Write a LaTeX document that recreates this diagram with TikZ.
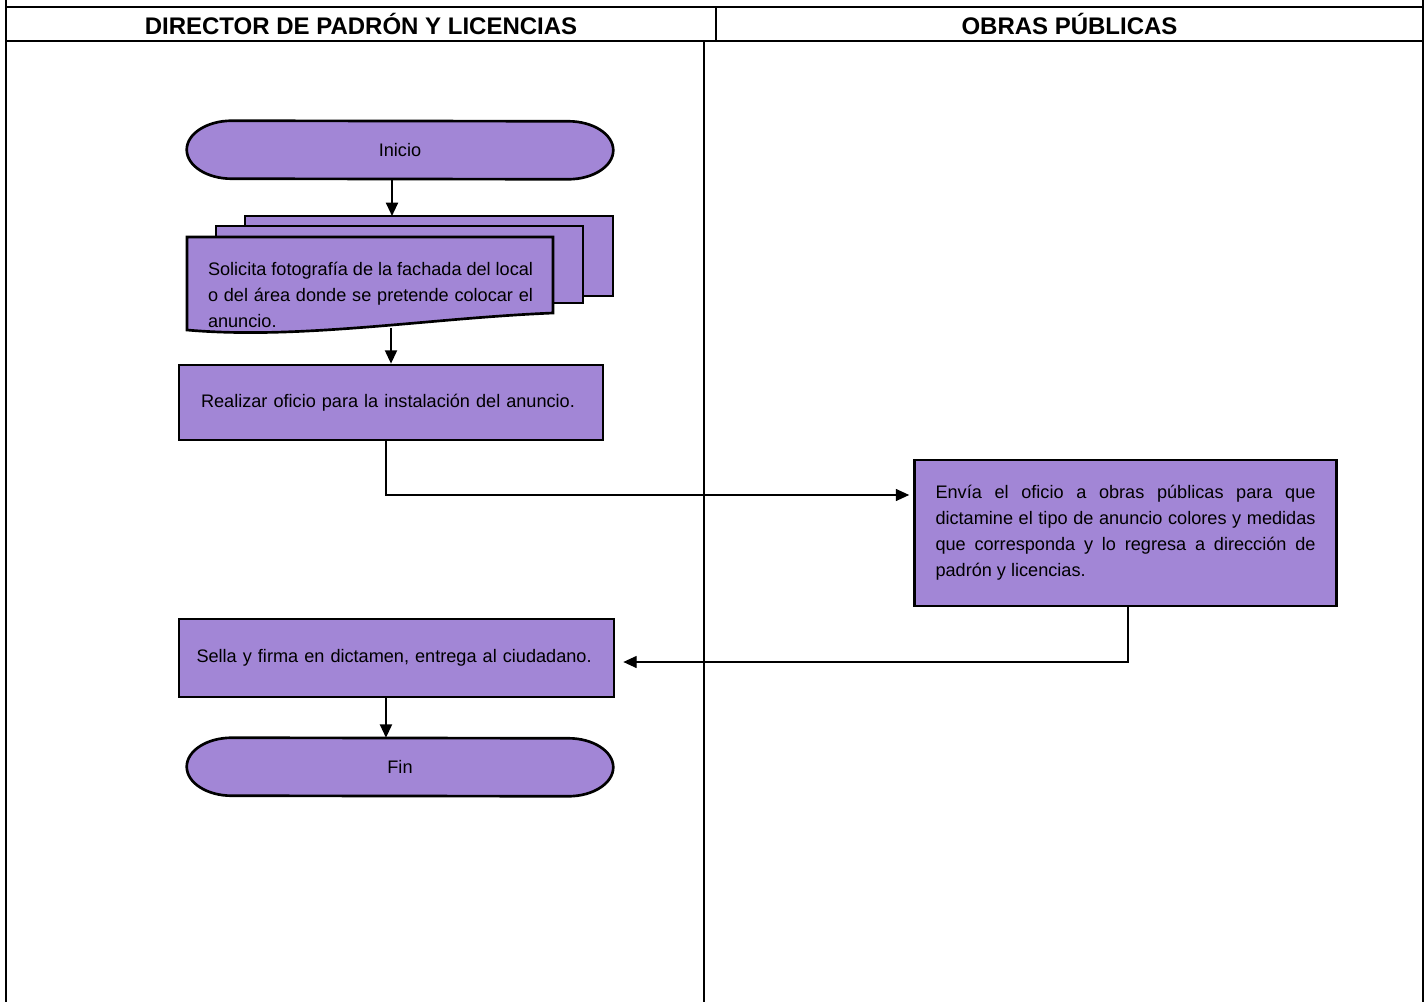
\documentclass[tikz,border=0pt]{standalone}
\usepackage{fontspec}
\setmainfont{Liberation Sans}
\usetikzlibrary{arrows.meta,positioning,backgrounds}
\definecolor{PLLila}{HTML}{A286D6}

\begin{document}
\begin{tikzpicture}[x=0.75pt, y=0.75pt, font=\fontsize{13.6pt}{19.5pt}\selectfont,
  lanehead/.style={font=\fontsize{18pt}{21pt}\selectfont\bfseries, inner sep=0pt},
  lane/.style={line width=1.6pt},
  sheet/.style={draw, line width=2pt, fill=PLLila},
  process/.style={sheet, inner xsep=16pt, align=left},
  terminal/.style={minimum width=319.5pt, minimum height=43.5pt, inner sep=0pt},
  flow/.style={-{Triangle[length=10pt,width=9pt]}, line width=1.5pt},
  link/.style={flow, line width=1pt}]
\useasboundingbox (0,0) rectangle (1427,-1002);
% lanes
\draw[lane] (6,0) -- (6,-1002) (1423,0) -- (1423,-1002) (704,-41) -- (704,-1002);
\draw[lane, line width=2.2pt] (6,-7) -- (1423,-7) (6,-41) -- (1423,-41);
\draw[lane] (716,-7) -- (716,-41);
\node[lanehead] (dirhead) at (361,-24) {DIRECTOR DE PADRÓN Y LICENCIAS};
\node[lanehead] (obrashead) at (1069.5,-24) {OBRAS PÚBLICAS};
% steps
\node[terminal] (inicio) at (400,-150) {Inicio};
\coordinate (stacktop) at (392,-216);
\node[inner sep=0pt, text width=243.75pt, align=justify] (solicita) at (370.5,-295) {Solicita fotografía de la fachada del local\linebreak o del área donde se pretende colocar el\linebreak anuncio.};
\node[process, minimum width=318pt, minimum height=56.25pt, text width=285pt] (realizar) at (391,-402.5) {Realizar oficio para la instalación del anuncio.};
\node[process, inner xsep=15.75pt, minimum width=315.75pt, minimum height=109.5pt, text width=285pt, align=justify] (envia) at (1125.5,-533) {Envía el oficio a obras públicas para que\linebreak dictamine el tipo de anuncio colores y medidas\linebreak que corresponda y lo regresa a dirección de\linebreak padrón y licencias.};
\node[process, inner xsep=13pt, minimum width=326.25pt, minimum height=58.5pt, text width=300pt] (sella) at (396.5,-658) {\mbox{Sella y firma en dictamen, entrega al ciudadano.}};
\node[terminal] (fin) at (400,-767) {Fin};
% shapes behind the texts
\begin{scope}[on background layer]
\fill[white] (0,0) rectangle (1427,-1002);
\foreach \term in {inicio,fin}
  \draw[sheet] ([xshift=33.75pt]\term.north west) arc[start angle=90, end angle=270, x radius=33.75pt, y radius=21.75pt]
    -- ([xshift=-33.75pt]\term.south east) arc[start angle=-90, end angle=90, x radius=33.75pt, y radius=21.75pt] -- cycle;
\draw[sheet] (245,-216) rectangle (613,-296);
\draw[sheet] (216,-226) rectangle (583,-303);
\draw[sheet] (187,-237) -- (553,-237) -- (553,-313) .. controls (430,-318) and (300,-340) .. (187,-330) -- cycle;
\end{scope}
% connectors
\draw[flow] (inicio.south -| stacktop) -- (stacktop);
\draw[flow] (solicita.south -| realizar.north) -- (realizar.north);
\draw[link, shorten >=3pt] ([xshift=-3.75pt]realizar.south) |- ([yshift=28.5pt]envia.west);
\draw[link, shorten >=6pt] ([xshift=1.9pt]envia.south) |- ([yshift=-3pt]sella.east);
\draw[flow] ([xshift=-7.9pt]sella.south) -- ([xshift=-7.9pt]sella.south |- fin.north);
\end{tikzpicture}
\end{document}
